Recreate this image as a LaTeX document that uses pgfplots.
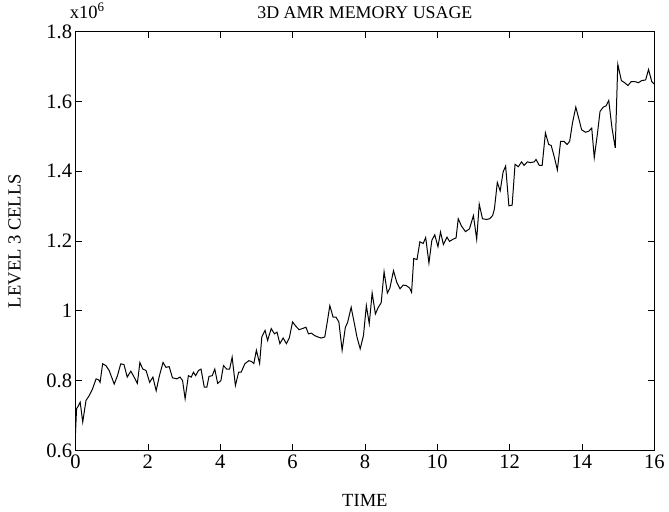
\documentclass[border=0pt]{standalone}
\usepackage{pgfplots}
\pgfplotsset{compat=1.18}
\usepackage{fontspec}
\setmainfont{Liberation Serif}
\begin{document}
\begin{tikzpicture}
\begin{axis}[
  width=437pt, height=316pt, scale only axis,
  xmin=0, xmax=16, ymin=0.6, ymax=1.8,
  xtick={0,2,...,16},
  xticklabels={0,2,4,6,8,10,12,14,16},
  ytick={0.6,0.8,1,1.2,1.4,1.6,1.8},
  yticklabels={0.6,0.8,1,1.2,1.4,1.6,1.8},
  tick align=inside,
  major tick length=5pt,
  tick style={black, line width=0.5pt},
  axis line style={line width=0.6pt},
  ticklabel style={font=\fontsize{15.5}{17}\selectfont},
  xticklabel style={yshift=0pt},
  yticklabel style={xshift=1pt},
  clip mode=individual,
]
\addplot[black, line width=0.75pt] coordinates {
(0.00,0.650)(0.03,0.720)(0.06,0.724)(0.13,0.738)(0.20,0.681)(0.29,0.743)(0.38,0.757)(0.47,0.776)
(0.57,0.805)(0.64,0.802)(0.68,0.795)(0.75,0.848)(0.84,0.843)(0.93,0.829)(1.07,0.790)(1.16,0.814)
(1.25,0.848)(1.34,0.846)(1.43,0.810)(1.53,0.827)(1.62,0.810)(1.71,0.792)(1.78,0.852)(1.86,0.833)
(1.95,0.829)(2.05,0.795)(2.14,0.810)(2.23,0.771)(2.32,0.814)(2.42,0.852)(2.50,0.838)(2.59,0.840)
(2.68,0.808)(2.80,0.805)(2.89,0.810)(2.96,0.800)(3.03,0.748)(3.12,0.814)(3.20,0.810)(3.26,0.824)
(3.32,0.814)(3.40,0.829)(3.47,0.833)(3.56,0.781)(3.63,0.781)(3.69,0.812)(3.78,0.814)(3.85,0.833)
(3.93,0.792)(4.02,0.800)(4.09,0.843)(4.18,0.833)(4.26,0.833)(4.33,0.867)(4.42,0.786)(4.51,0.824)
(4.58,0.824)(4.68,0.848)(4.79,0.857)(4.86,0.855)(4.93,0.849)(5.00,0.887)(5.09,0.849)(5.15,0.925)
(5.24,0.944)(5.31,0.915)(5.41,0.949)(5.50,0.934)(5.57,0.939)(5.65,0.906)(5.74,0.922)(5.83,0.906)
(5.91,0.922)(6.00,0.968)(6.09,0.956)(6.18,0.946)(6.27,0.949)(6.37,0.953)(6.44,0.934)(6.52,0.936)
(6.61,0.929)(6.70,0.925)(6.79,0.922)(6.89,0.925)(6.96,0.968)(7.03,1.015)(7.12,0.982)(7.20,0.982)
(7.28,0.968)(7.37,0.887)(7.46,0.953)(7.52,0.966)(7.62,1.010)(7.71,0.963)(7.78,0.925)(7.87,0.891)
(7.96,0.929)(8.04,1.015)(8.12,0.963)(8.20,1.051)(8.29,0.991)(8.37,1.010)(8.45,1.023)(8.53,1.112)
(8.62,1.051)(8.69,1.065)(8.79,1.115)(8.88,1.082)(8.97,1.063)(9.06,1.074)(9.15,1.072)(9.24,1.065)
(9.29,1.053)(9.35,1.150)(9.44,1.147)(9.52,1.198)(9.61,1.193)(9.68,1.210)(9.77,1.137)(9.85,1.202)
(9.93,1.218)(10.02,1.184)(10.09,1.226)(10.17,1.190)(10.27,1.211)(10.34,1.199)(10.43,1.205)(10.52,1.209)
(10.58,1.264)(10.67,1.243)(10.78,1.227)(10.89,1.235)(11.00,1.273)(11.09,1.205)(11.16,1.306)(11.25,1.264)
(11.36,1.262)(11.45,1.264)(11.53,1.273)(11.58,1.292)(11.66,1.368)(11.74,1.344)(11.82,1.398)(11.89,1.415)
(11.98,1.301)(12.07,1.303)(12.15,1.420)(12.24,1.413)(12.33,1.427)(12.40,1.417)(12.49,1.427)(12.58,1.425)
(12.68,1.427)(12.73,1.434)(12.82,1.417)(12.90,1.417)(12.99,1.510)(13.08,1.477)(13.15,1.474)(13.24,1.439)
(13.32,1.404)(13.41,1.486)(13.50,1.486)(13.59,1.477)(13.66,1.486)(13.74,1.540)(13.83,1.584)(13.92,1.548)
(13.99,1.519)(14.10,1.512)(14.19,1.515)(14.27,1.524)(14.34,1.439)(14.43,1.510)(14.50,1.572)(14.59,1.584)
(14.67,1.588)(14.74,1.603)(14.83,1.524)(14.92,1.467)(14.99,1.707)(15.09,1.660)(15.18,1.654)(15.27,1.646)
(15.36,1.657)(15.47,1.657)(15.56,1.654)(15.65,1.660)(15.76,1.662)(15.84,1.692)(15.93,1.657)(16.00,1.650)
};
\node[anchor=base west, font=\fontsize{14}{16}\selectfont, inner sep=0pt] at ([xshift=-4.5pt, yshift=10pt]rel axis cs:0,1) {x10\textsuperscript{6}};
\node[anchor=base, font=\fontsize{13.5}{16}\selectfont, inner sep=0pt] at ([yshift=10pt]rel axis cs:0.5,1) {3D AMR MEMORY USAGE};
\node[anchor=center, font=\fontsize{14}{16}\selectfont, inner sep=0pt] at ([yshift=-37.5pt]rel axis cs:0.5,0) {TIME};
\node[anchor=center, rotate=90, font=\fontsize{14}{16}\selectfont, inner sep=0pt] at ([xshift=-46pt]rel axis cs:0,0.5) {LEVEL 3 CELLS};
\path[use as bounding box] ([xshift=-57pt, yshift=-46pt]rel axis cs:0,0) rectangle ([xshift=7.5pt, yshift=24pt]rel axis cs:1,1);
\end{axis}
\end{tikzpicture}
\end{document}
